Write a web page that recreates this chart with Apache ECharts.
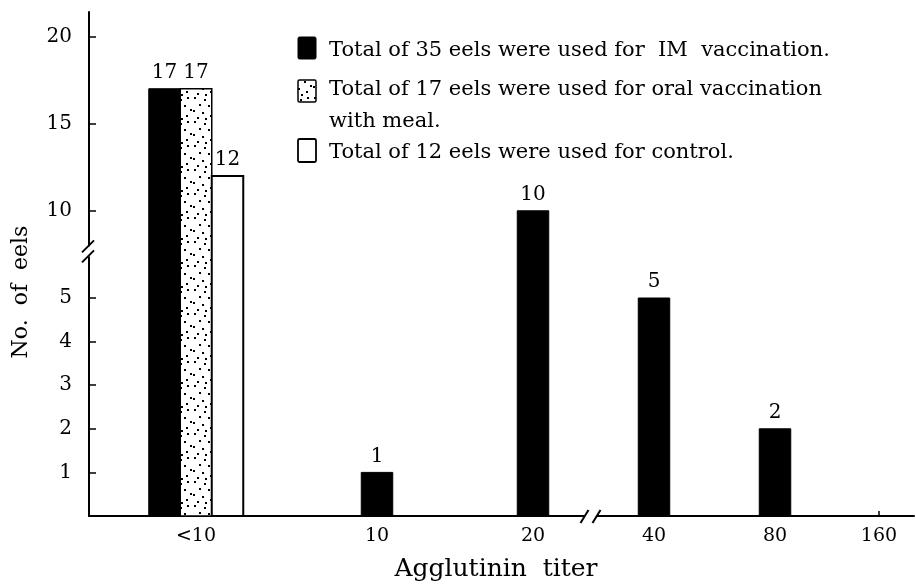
<!DOCTYPE html>
<html><head><meta charset="utf-8">
<script src="https://cdn.jsdelivr.net/npm/echarts@6/dist/echarts.min.js"></script>
<style>html,body{margin:0;padding:0;background:#fff}#c{width:916px;height:587px}</style>
</head><body><div id="c"></div>
<script>
// ---- data ----
const categories = ['<10', '10', '20', '40', '80', '160'];
const imCounts = [17, 1, 10, 5, 2, 0];
const oralCounts = [17, 0, 0, 0, 0, 0];
const controlCounts = [12, 0, 0, 0, 0, 0];
const yTickValues = [1, 2, 3, 4, 5, 10, 15, 20];
const seriesNames = [
  'Total of 35 eels were used for  IM  vaccination.',
  'Total of 17 eels were used for oral vaccination\nwith meal.',
  'Total of 12 eels were used for control.'
];
const xTitle = 'Agglutinin  titer';
const yTitle = 'No.  of  eels';

// ---- layout (not data) ----
const catPos = [1.07, 2.88, 4.44, 5.65, 6.86, 7.90]; // uneven spacing of the original axis
const X_MAX = 8.25;
const Y_MAX = 11.56;
const BAR_W = 0.315;
const FONT = 'DejaVu Serif';
// broken y axis: 0-5 at full scale, 10-20 compressed
function toAxis(v) { return v <= 5 ? v : 3 + 0.4 * v; }

function makeDots() {
  const c = document.createElement('canvas'); c.width = 24; c.height = 24;
  const g = c.getContext('2d');
  g.fillStyle = '#fff'; g.fillRect(0, 0, 24, 24);
  g.fillStyle = '#000';
  const pts = [[2,1],[12,3],[19,1],[7,8],[16,9],[22,13],[1,14],[10,16],[18,19],[5,21],[13,22]];
  pts.forEach(p => g.fillRect(p[0], p[1], 2, 2));
  return c;
}
const dotPattern = { image: makeDots(), repeat: 'repeat' };

const allCounts = [imCounts, oralCounts, controlCounts];
const fills = ['#000', dotPattern, '#fff'];
const strokes = [1, 1.5, 2];

function renderBar(params, api) {
  const si = params.seriesIndex;
  const ci = api.value(2);
  const v = api.value(1);
  if (!v) return;
  const present = allCounts.map(a => a[ci] > 0);
  const n = present.filter(Boolean).length;
  let k = 0; for (let s = 0; s < si; s++) if (present[s]) k++;
  const center = catPos[ci] + (k - (n - 1) / 2) * BAR_W;
  const p0 = api.coord([center - BAR_W / 2, toAxis(v)]);
  const p1 = api.coord([center + BAR_W / 2, 0]);
  return {
    type: 'group',
    children: [
      { type: 'rect', shape: { x: p0[0], y: p0[1], width: p1[0] - p0[0], height: p1[1] - p0[1] },
        style: { fill: fills[si], stroke: '#000', lineWidth: strokes[si] } },
      { type: 'text', style: { text: String(v), x: (p0[0] + p1[0]) / 2, y: p0[1] - 6,
        align: 'center', verticalAlign: 'bottom', font: '20px "' + FONT + '"', fill: '#000' } }
    ]
  };
}

function seriesData(counts) { return categories.map((c, i) => [catPos[i], counts[i], i]); }

const chart = echarts.init(document.getElementById('c'), null, { renderer: 'canvas' });
const option = {
  backgroundColor: '#fff',
  animation: false,
  textStyle: { fontFamily: FONT, color: '#000' },
  grid: { left: 89, right: 2, top: 12, bottom: 71 },
  xAxis: {
    type: 'value', min: 0, max: X_MAX,
    splitLine: { show: false },
    axisLine: { lineStyle: { color: '#000', width: 2 } },
    axisTick: { customValues: catPos, inside: true, length: 5, lineStyle: { color: '#000', width: 1.5 } },
    axisLabel: { customValues: catPos, margin: 11, fontFamily: FONT, fontSize: 19, color: '#000',
      formatter: v => { const i = catPos.findIndex(p => Math.abs(p - v) < 1e-6); return i >= 0 ? categories[i] : ''; } }
  },
  yAxis: {
    type: 'value', min: 0, max: Y_MAX,
    splitLine: { show: false },
    axisLine: { show: true, lineStyle: { color: '#000', width: 2 } },
    axisTick: { show: true, customValues: yTickValues.map(toAxis), inside: true, length: 7, lineStyle: { color: '#000', width: 1.5 } },
    axisLabel: { customValues: yTickValues.map(toAxis), margin: 17, fontFamily: FONT, fontSize: 20, color: '#000',
      formatter: d => { const i = yTickValues.findIndex(t => Math.abs(toAxis(t) - d) < 1e-6); return i >= 0 ? String(yTickValues[i]) : ''; } }
  },
  series: allCounts.map((counts, si) => ({
    type: 'custom', name: seriesNames[si], renderItem: renderBar,
    encode: { x: 0, y: 1 }, data: seriesData(counts), z: 3
  }))
};
chart.setOption(option);

// ---- decorations: legend, axis titles, axis breaks ----
const yBreak = chart.convertToPixel({ gridIndex: 0 }, [0, 6]);
const xBreak = chart.convertToPixel({ gridIndex: 0 }, [(catPos[2] + catPos[3]) / 2, 0]);
const ax = yBreak[0], ay = yBreak[1] - 3;
const bx = xBreak[0] - 3, by = xBreak[1];
const legendItems = [
  { y: 37, h: 22, fill: '#000', lw: 1, ty: 51 },
  { y: 80, h: 22, fill: dotPattern, lw: 1.5, ty: 90 },
  { y: 139, h: 23, fill: '#fff', lw: 1.8, ty: 153 }
];
const graphics = [];
legendItems.forEach((it, i) => {
  graphics.push({ type: 'rect', shape: { x: 298, y: it.y, width: 18, height: it.h, r: 1.5 },
    style: { fill: it.fill, stroke: '#000', lineWidth: it.lw }, z: 10 });
  graphics.push({ type: 'text', x: 329, y: it.ty - 16,
    style: { text: seriesNames[i], font: '21px "' + FONT + '"', fill: '#000', lineHeight: 32, verticalAlign: 'top' }, z: 10 });
});
graphics.push({ type: 'text', x: 21, y: 292, rotation: Math.PI / 2,
  style: { text: yTitle, font: '22px "' + FONT + '"', fill: '#000', align: 'center', verticalAlign: 'middle' } });
graphics.push({ type: 'text', x: 496, y: 569,
  style: { text: xTitle, font: '25px "' + FONT + '"', fill: '#000', align: 'center', verticalAlign: 'middle' } });
// y break
graphics.push({ type: 'rect', shape: { x: ax - 3, y: ay - 5, width: 6, height: 10 }, style: { fill: '#fff' }, z: 20 });
graphics.push({ type: 'line', shape: { x1: ax - 7, y1: ay + 1, x2: ax + 5, y2: ay - 11 }, style: { stroke: '#000', lineWidth: 2 }, z: 21 });
graphics.push({ type: 'line', shape: { x1: ax - 7, y1: ay + 11, x2: ax + 5, y2: ay - 1 }, style: { stroke: '#000', lineWidth: 2 }, z: 21 });
// x break
graphics.push({ type: 'rect', shape: { x: bx - 6, y: by - 3, width: 12, height: 6 }, style: { fill: '#fff' }, z: 20 });
graphics.push({ type: 'line', shape: { x1: bx - 10, y1: by + 7, x2: bx - 2, y2: by - 6 }, style: { stroke: '#000', lineWidth: 2 }, z: 21 });
graphics.push({ type: 'line', shape: { x1: bx + 2, y1: by + 7, x2: bx + 10, y2: by - 6 }, style: { stroke: '#000', lineWidth: 2 }, z: 21 });
chart.setOption({ graphic: graphics });
</script>
</body></html>
